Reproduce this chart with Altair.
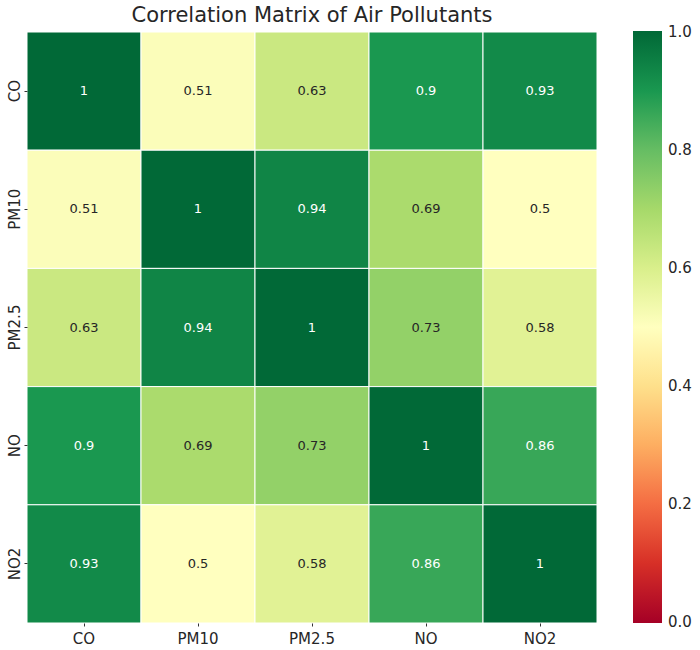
import altair as alt
import pandas as pd

pollutants = ["CO", "PM10", "PM2.5", "NO", "NO2"]
corr = [
    [1.00, 0.51, 0.63, 0.90, 0.93],
    [0.51, 1.00, 0.94, 0.69, 0.50],
    [0.63, 0.94, 1.00, 0.73, 0.58],
    [0.90, 0.69, 0.73, 1.00, 0.86],
    [0.93, 0.50, 0.58, 0.86, 1.00],
]
colorbar_ticks = [0.0, 0.2, 0.4, 0.6, 0.8, 1.0]

# ColorBrewer RdYlGn stops spread over 0..1 (end stops nudged a hair outward
# so the colorbar's end labels stay centred on their values)
rdylgn = ["#a50026", "#d73027", "#f46d43", "#fdae61", "#fee08b", "#ffffbf",
          "#d9ef8b", "#a6d96a", "#66bd63", "#1a9850", "#006837"]
stops = [i / 10 for i in range(11)]
stops[0] = -0.002
stops[-1] = 1.002

rows = []
for i, r in enumerate(pollutants):
    for j, c in enumerate(pollutants):
        v = corr[i][j]
        rows.append({"row": r, "col": c, "value": v,
                     "label": f"{v:g}", "dark": v >= 0.8})
df = pd.DataFrame(rows)

x_enc = alt.X("col:N", sort=pollutants, title=None,
              axis=alt.Axis(labelAngle=0, labelFontSize=15, labelPadding=5,
                            tickSize=3, tickColor="#333333", domain=False,
                            labelColor="#262626", labelFont="DejaVu Sans"))
y_enc = alt.Y("row:N", sort=pollutants, title=None,
              axis=alt.Axis(labelAngle=270, labelFontSize=15, labelPadding=2,
                            labelAlign="center", labelBaseline="bottom",
                            tickSize=3, tickColor="#333333", domain=False,
                            labelColor="#262626", labelFont="DejaVu Sans"))

cells = alt.Chart(df).mark_rect(stroke="white", strokeWidth=1).encode(
    x=x_enc,
    y=y_enc,
    color=alt.Color(
        "value:Q",
        scale=alt.Scale(domain=stops, range=rdylgn, interpolate="rgb"),
        legend=alt.Legend(
            title=None, orient="none", direction="vertical",
            legendX=606, legendY=-1,
            gradientLength=592, gradientThickness=29,
            gradientStrokeWidth=0,
            values=colorbar_ticks, format=".1f",
            labelFontSize=15, labelColor="#262626", labelFont="DejaVu Sans",
            labelOffset=6, labelBaseline="middle",
        ),
    ),
)

text = alt.Chart(df).mark_text(fontSize=13, font="DejaVu Sans").encode(
    x=alt.X("col:N", sort=pollutants),
    y=alt.Y("row:N", sort=pollutants),
    text="label:N",
    color=alt.condition("datum.dark", alt.value("#ffffff"), alt.value("#262626")),
)

chart = (cells + text).properties(
    width=570,
    height=591,
    autosize=alt.AutoSizeParams(type="none"),
    padding={"left": 27, "top": 32, "right": 103, "bottom": 27},
    background="white",
    title=alt.TitleParams(
        "Correlation Matrix of Air Pollutants",
        fontSize=21, font="DejaVu Sans", fontWeight="normal",
        color="#262626", anchor="middle", frame="group", offset=5,
    ),
).configure_view(strokeWidth=0)

chart.save("out.html", embed_options={"renderer": "svg", "actions": False})
